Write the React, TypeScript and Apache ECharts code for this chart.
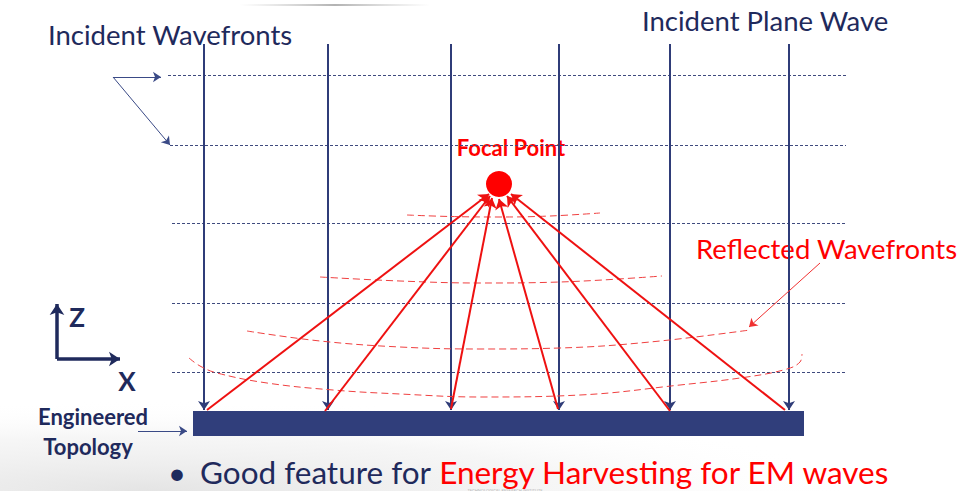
import React, { useEffect, useRef } from "react";
import * as echarts from "echarts";

const W = 957;
const H = 491;

// Incident plane wave rays (x positions), from top to the surface
const incidentRayX = [204, 328, 451, 559, 670, 789];
const incidentRayTop = 44;
const incidentRayBottom = 410;

// Incident wavefronts (dashed horizontal lines)
const wavefrontY = [75, 145, 223, 303, 372];
const wavefrontStartX = [168, 170, 172, 172, 172];
const wavefrontEndX = 846;

// Reflected rays: start on surface -> end at focal point
const reflectedStart = [[207, 410], [325, 411], [451, 409], [558, 409], [670, 411], [785, 410]];
const reflectedEnd = [[489, 194], [490, 196], [492, 198], [499, 199], [507, 196], [511, 194]];

// Focal point
const focalPoint = [[499, 184]];

// Reflected wavefronts (dashed red arcs)
const reflectedFront1 = [[407, 215], [450, 216.5], [500, 217], [550, 216], [600, 213]];
const reflectedFront2 = [[320, 277], [400, 281], [480, 283], [560, 282], [662, 276]];
const reflectedFront3 = [[247, 331], [320, 341], [400, 347], [480, 349], [560, 348], [650, 342], [750, 330]];
const reflectedFront4 = [[189, 358], [200, 366], [217, 373], [267, 383], [333, 390], [400, 394], [480, 397], [580, 395], [680, 385], [747, 377], [787, 369], [800, 362], [802, 354]];

// Engineered surface (x1, y1, x2, y2)
const surface = [[193, 411, 804, 436]];

// Annotation arrows
const wavefrontPointers = [[[113, 77], [161, 77]], [[113, 77], [170, 145]]];
const topologyPointer = [[[138, 431], [187, 431]]];
const reflectedPointer = [[[820, 263], [749, 327]]];
const axisZ = [[[57, 359], [57, 304]]];
const axisX = [[[57, 359], [120, 359]]];

const NAVY = "#1f2a5c";
const BLUE = "#2f3c78";
const RED = "#ff0000";

export default function App() {
  const ref = useRef<HTMLDivElement>(null);
  useEffect(() => {
    if (!ref.current) return;
    const chart = echarts.init(ref.current, undefined, { renderer: "svg" });

    const toLines = (pairs: number[][][]) => pairs.map((c) => ({ coords: c }));

    const option: any = {
      animation: false,
      backgroundColor: "#ffffff",
      grid: { left: 0, right: 0, top: 0, bottom: 0 },
      xAxis: { type: "value", min: 0, max: W, show: false },
      yAxis: { type: "value", min: 0, max: H, inverse: true, show: false },
      graphic: [
        {
          type: "rect",
          z: -10,
          silent: true,
          shape: { x: 0, y: 370, width: 957, height: 121 },
          style: {
            fill: {
              type: "radial",
              x: 0.15,
              y: 1,
              r: 0.75,
              colorStops: [
                { offset: 0, color: "rgba(195,195,195,0.45)" },
                { offset: 0.6, color: "rgba(220,220,220,0.25)" },
                { offset: 1, color: "rgba(255,255,255,0)" },
              ],
            },
          },
        },
        {
          type: "rect",
          z: -10,
          silent: true,
          shape: { x: 240, y: 4, width: 190, height: 2 },
          style: {
            fill: {
              type: "linear",
              x: 0, y: 0, x2: 1, y2: 0,
              colorStops: [
                { offset: 0, color: "rgba(190,190,190,0)" },
                { offset: 0.5, color: "rgba(170,170,170,0.9)" },
                { offset: 1, color: "rgba(190,190,190,0)" },
              ],
            },
          },
        },
        { type: "text", x: 48, y: 34, style: { text: "Incident Wavefronts", font: "27.5px Lato", fill: NAVY, textVerticalAlign: "middle" } },
        { type: "text", x: 642, y: 20, style: { text: "Incident Plane Wave", font: "27.5px Lato", fill: NAVY, textVerticalAlign: "middle" } },
        { type: "text", x: 511, y: 147, style: { text: "Focal Point", font: "bold 22px Lato", fill: RED, textAlign: "center", textVerticalAlign: "middle" } },
        { type: "text", x: 696, y: 248, style: { text: "Reflected Wavefronts", font: "27.5px Lato", fill: RED, textVerticalAlign: "middle" } },
        { type: "text", x: 93, y: 416, style: { text: "Engineered", font: "bold 22px Lato", fill: NAVY, textAlign: "center", textVerticalAlign: "middle" } },
        { type: "text", x: 88, y: 446, style: { text: "Topology", font: "bold 22px Lato", fill: NAVY, textAlign: "center", textVerticalAlign: "middle" } },
        { type: "text", x: 77, y: 317, style: { text: "Z", font: "bold 26px Lato", fill: NAVY, textAlign: "center", textVerticalAlign: "middle" } },
        { type: "text", x: 127, y: 381, style: { text: "X", font: "bold 26px Lato", fill: NAVY, textAlign: "center", textVerticalAlign: "middle" } },
        { type: "text", x: 177, y: 472, style: { text: "•", font: "31px Lato", fill: NAVY, textAlign: "center", textVerticalAlign: "middle" } },
        {
          type: "text",
          x: 200,
          y: 472,
          style: {
            text: "{a|Good feature for }{b|Energy Harvesting for EM waves}",
            textVerticalAlign: "middle",
            rich: {
              a: { font: "31.5px Lato", fill: NAVY, fontSize: 31.5, fontFamily: "Lato", color: NAVY, lineHeight: 28 },
              b: { font: "31.5px Lato", fill: RED, fontSize: 31.5, fontFamily: "Lato", color: RED, lineHeight: 28 },
            },
          },
        },
        { type: "text", x: 505, y: 490, style: { text: "TECHNOLOGICAL RESEARCH INSTITUTE", font: "4px Lato", fill: "#b8b8b8", textAlign: "center", textVerticalAlign: "middle" } },
      ],
      series: [
        {
          type: "custom",
          coordinateSystem: "cartesian2d",
          silent: true,
          z: 1,
          data: surface,
          renderItem: (params: any, api: any) => {
            const p1 = api.coord([api.value(0), api.value(1)]);
            const p2 = api.coord([api.value(2), api.value(3)]);
            return {
              type: "rect",
              shape: { x: p1[0], y: p1[1], width: p2[0] - p1[0], height: p2[1] - p1[1] },
              style: { fill: "#303e7b" },
            };
          },
        },
        {
          type: "lines",
          coordinateSystem: "cartesian2d",
          silent: true,
          z: 2,
          lineStyle: { color: "#3f4a7e", width: 1, type: [3, 2], opacity: 1 },
          symbol: "none",
          data: wavefrontY.map((y, i) => ({ coords: [[wavefrontStartX[i], y], [wavefrontEndX, y]] })),
        },
        {
          type: "lines",
          coordinateSystem: "cartesian2d",
          silent: true,
          z: 3,
          lineStyle: { color: BLUE, width: 2, opacity: 1 },
          symbol: ["none", "arrow"],
          symbolSize: 9,
          data: incidentRayX.map((x) => ({ coords: [[x, incidentRayTop], [x, incidentRayBottom]] })),
        },
        ...[reflectedFront1, reflectedFront2, reflectedFront3, reflectedFront4].map((d) => ({
          type: "line",
          silent: true,
          z: 4,
          smooth: 0.4,
          showSymbol: false,
          symbol: "none",
          lineStyle: { color: "#f04040", width: 1, type: [7, 4] },
          data: d,
        })),
        {
          type: "lines",
          coordinateSystem: "cartesian2d",
          silent: true,
          z: 5,
          lineStyle: { color: "#ee1111", width: 2, opacity: 1 },
          symbol: ["none", "arrow"],
          symbolSize: 10,
          data: reflectedStart.map((s, i) => ({ coords: [s, reflectedEnd[i]] })),
        },
        {
          type: "scatter",
          silent: true,
          z: 6,
          symbolSize: 26,
          itemStyle: { color: RED, opacity: 1 },
          data: focalPoint,
        },
        {
          type: "lines",
          coordinateSystem: "cartesian2d",
          silent: true,
          z: 5,
          lineStyle: { color: "#3a4a86", width: 1, opacity: 1 },
          symbol: ["none", "arrow"],
          symbolSize: 8,
          data: toLines([...wavefrontPointers, ...topologyPointer]),
        },
        {
          type: "lines",
          coordinateSystem: "cartesian2d",
          silent: true,
          z: 5,
          lineStyle: { color: "#f03030", width: 1, opacity: 1 },
          symbol: ["none", "arrow"],
          symbolSize: 8,
          data: toLines(reflectedPointer),
        },
        {
          type: "lines",
          coordinateSystem: "cartesian2d",
          silent: true,
          z: 5,
          lineStyle: { color: NAVY, width: 3.5, opacity: 1 },
          symbol: ["none", "arrow"],
          symbolSize: 11,
          data: toLines([...axisZ, ...axisX]),
        },
      ],
    };

    chart.setOption(option);
    return () => chart.dispose();
  }, []);

  return <div ref={ref} style={{ position: "fixed", left: 0, top: 0, width: W, height: H }} />;
}
